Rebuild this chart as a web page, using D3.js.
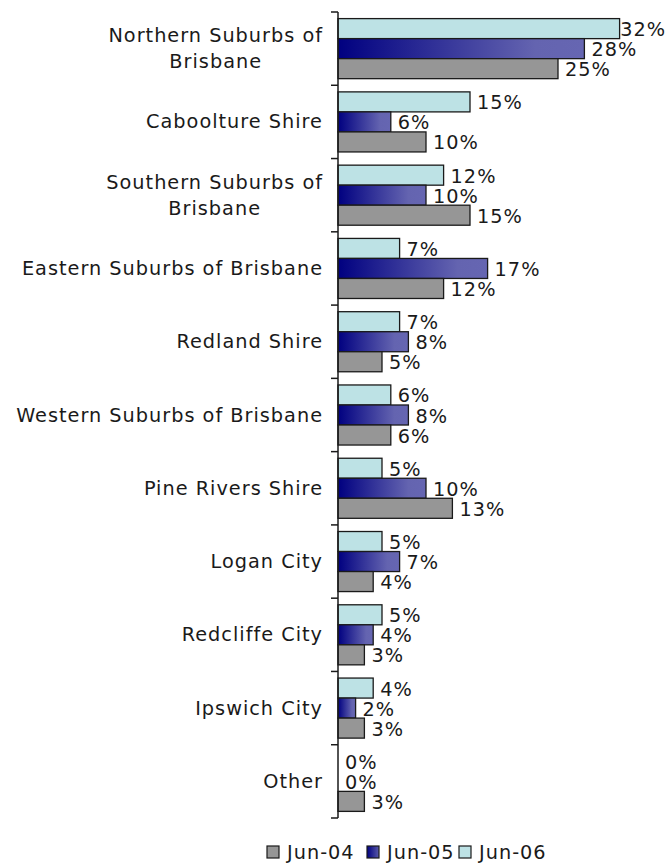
<!DOCTYPE html>
<html><head><meta charset="utf-8">
<script src="https://cdn.jsdelivr.net/npm/d3@7"></script>
<style>
html,body{margin:0;padding:0;background:#fff;}
svg text{font-family:"DejaVu Sans",Verdana,sans-serif;fill:#1a1a1a;}
</style></head>
<body><svg id="chart" width="668" height="863"></svg>
<script>
const categories = ["Northern Suburbs of\nBrisbane","Caboolture Shire","Southern Suburbs of\nBrisbane","Eastern Suburbs of Brisbane","Redland Shire","Western Suburbs of Brisbane","Pine Rivers Shire","Logan City","Redcliffe City","Ipswich City","Other"];
const seriesNames = ["Jun-04","Jun-05","Jun-06"];
const jun04 = [25,10,15,12,5,6,13,4,3,3,3];
const jun05 = [28,6,10,17,8,8,10,7,4,2,0];
const jun06 = [32,15,12,7,7,6,5,5,5,4,0];

(function(){
const seriesValues = {"Jun-04":jun04,"Jun-05":jun05,"Jun-06":jun06};
const fills = {"Jun-04":"#969696","Jun-05":"url(#gradNavy)","Jun-06":"#bde2e5"};
const legendFills = {"Jun-04":"#969696","Jun-05":"url(#gradNavyL)","Jun-06":"#bde2e5"};

const svg = d3.select("#chart");
const defs = svg.append("defs");
const g1 = defs.append("linearGradient").attr("id","gradNavy").attr("x1","0").attr("x2","1").attr("y1","0").attr("y2","0");
g1.append("stop").attr("offset","0").attr("stop-color","#000080");
g1.append("stop").attr("offset","0.8").attr("stop-color","#6464b0");
g1.append("stop").attr("offset","1").attr("stop-color","#6666b2");
const g2 = defs.append("linearGradient").attr("id","gradNavyL").attr("x1","0").attr("x2","1").attr("y1","0").attr("y2","0");
g2.append("stop").attr("offset","0").attr("stop-color","#000080");
g2.append("stop").attr("offset","1").attr("stop-color","#5a5aa8");

const axisX = 338, plotTop = 12, plotBottom = 818;
const x = d3.scaleLinear().domain([0,35]).range([axisX, axisX + 308]);
const y0 = d3.scaleBand().domain(categories).range([plotTop,plotBottom]).padding(0);
const order = ["Jun-06","Jun-05","Jun-04"];
const y1 = d3.scaleBand().domain(order).range([0,y0.bandwidth()]).paddingInner(0).paddingOuter(0.33);

const fontSize = 19.3, ls = 1;

const data = [];
categories.forEach((c,i)=>order.forEach(s=>data.push({c, s, v: seriesValues[s][i]})));
const bars = svg.append("g");
bars.selectAll("rect").data(data.filter(d=>d.v>0)).join("rect")
  .attr("x", x(0))
  .attr("y", d=>y0(d.c)+y1(d.s))
  .attr("width", d=>x(d.v)-x(0))
  .attr("height", y1.bandwidth())
  .attr("fill", d=>fills[d.s])
  .attr("stroke","#1a1a1a").attr("stroke-width",1.3);

const vl = svg.append("g");
vl.selectAll("text").data(data).join("text")
  .attr("font-size",fontSize).attr("letter-spacing",ls)
  .attr("y", d=>y0(d.c)+y1(d.s)+y1.bandwidth()/2+1)
  .attr("dominant-baseline","central")
  .text(d=>d.v+"%")
  .each(function(d){
    const w = this.getComputedTextLength();
    let xx = x(d.v)+7;
    if (xx + w > 666) xx = 666 - w;
    d3.select(this).attr("x", xx);
  });

const ax = svg.append("g").attr("stroke","#1a1a1a").attr("stroke-width",1.5);
ax.append("line").attr("x1",axisX).attr("x2",axisX).attr("y1",plotTop).attr("y2",plotBottom);
const bounds = categories.map(c=>y0(c)).concat([plotBottom]);
ax.selectAll("line.t").data(bounds).join("line").attr("class","t")
  .attr("x1",axisX-7).attr("x2",axisX).attr("y1",d=>d).attr("y2",d=>d);

const cl = svg.append("g");
categories.forEach(c=>{
  const lines = c.split("\n");
  const lh = 26;
  const cy = y0(c)+y0.bandwidth()/2;
  const t = cl.append("text").attr("font-size",fontSize).attr("letter-spacing",ls).attr("text-anchor","middle");
  const spans = lines.map((ln,k)=>t.append("tspan").attr("dominant-baseline","central")
      .attr("y", cy + (k-(lines.length-1)/2)*lh).text(ln));
  const widths = spans.map(sp=>sp.node().getComputedTextLength());
  const mw = d3.max(widths);
  const cx = 323 - mw/2;
  spans.forEach(sp=>sp.attr("x",cx));
});

const legX = [267,367,459];
const lg = svg.append("g");
seriesNames.forEach((s,i)=>{
  lg.append("rect").attr("x",legX[i]).attr("y",846).attr("width",12).attr("height",12)
    .attr("fill",legendFills[s]).attr("stroke","#1a1a1a").attr("stroke-width",1.2);
  lg.append("text").attr("x",legX[i]+20).attr("y",852).attr("dominant-baseline","central")
    .attr("font-size",fontSize).attr("letter-spacing",ls).text(s);
});
})();
</script></body></html>
